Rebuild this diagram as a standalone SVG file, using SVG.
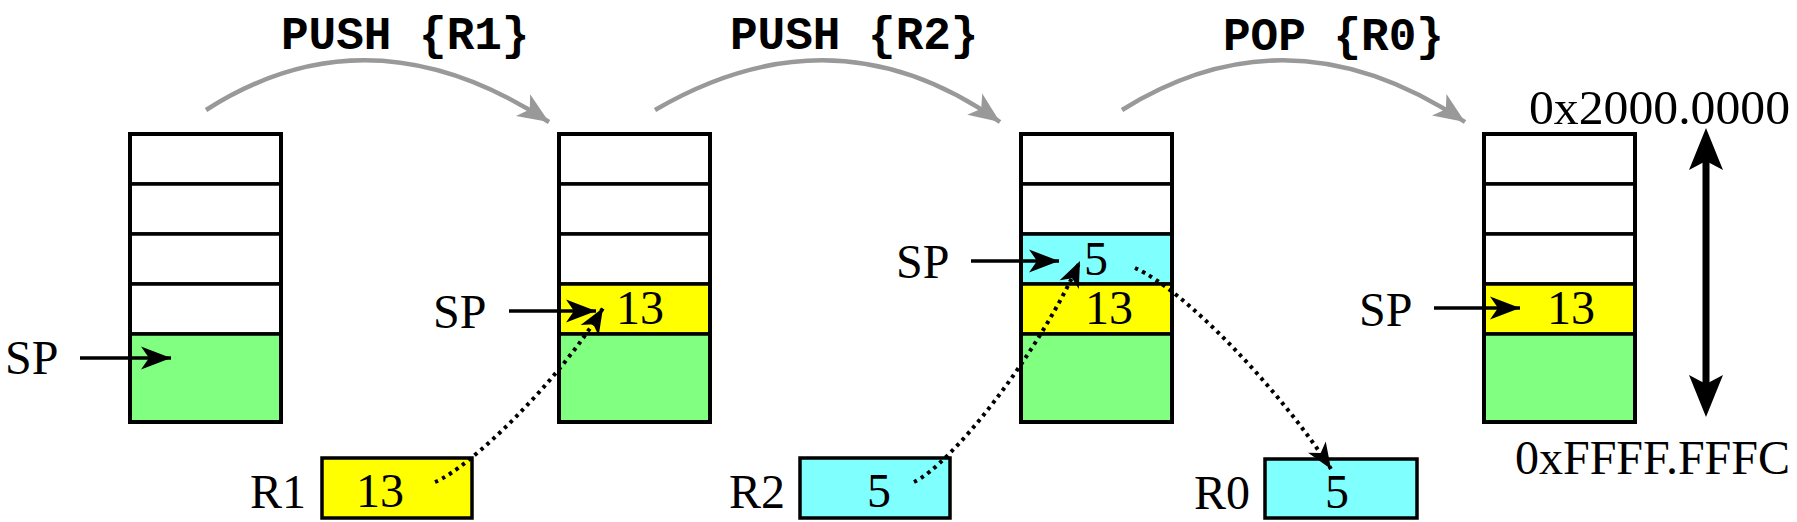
<svg xmlns="http://www.w3.org/2000/svg" width="1797" height="522" viewBox="0 0 1797 522">
<style>
.cell{stroke:#000;stroke-width:3.5}
.w{fill:#fff}.g{fill:#80ff80}.y{fill:#ffff00}.c{fill:#80ffff}
.frame{fill:none;stroke:#000;stroke-width:4}
.t{font-family:"Liberation Serif","Times New Roman",serif;font-size:48px;fill:#000}
.op{font-family:"Liberation Mono","Courier New",monospace;font-weight:bold;font-size:46px;fill:#000}
.sp{stroke:#000;stroke-width:3.5;fill:none}
.dot{stroke:#000;stroke-width:4;fill:none;stroke-dasharray:3.5 4.5}
.step{stroke:#999;stroke-width:4.5;fill:none}
.big{stroke:#000;stroke-width:7;fill:none}
</style>
<defs>
<marker id="ah" viewBox="-34 -14 36 28" markerWidth="36" markerHeight="28" refX="0" refY="0" orient="auto" markerUnits="userSpaceOnUse">
<path d="M0,0 L-30,-11.5 L-22,0 L-30,11.5 Z" fill="#000"/>
</marker>
<marker id="ahd" viewBox="-30 -13 32 26" markerWidth="32" markerHeight="26" refX="0" refY="0" orient="auto" markerUnits="userSpaceOnUse">
<path d="M0,0 L-26,-10.5 L-19,0 L-26,10.5 Z" fill="#000"/>
</marker>
<marker id="ahg" viewBox="-34 -15 36 30" markerWidth="36" markerHeight="30" refX="0" refY="0" orient="auto" markerUnits="userSpaceOnUse">
<path d="M0,0 L-31,-13 L-23,0 L-31,13 Z" fill="#999"/>
</marker>
<marker id="ahb" viewBox="-14 -19 48 38" markerWidth="48" markerHeight="38" refX="0" refY="0" orient="auto-start-reverse" markerUnits="userSpaceOnUse">
<path d="M30,0 L-12,-17 L-3,0 L-12,17 Z" fill="#000"/>
</marker>
</defs>

<g id="titles">
<text class="op" x="281" y="49">PUSH {R1}</text>
<text class="op" x="730" y="49">PUSH {R2}</text>
<text class="op" x="1223" y="50">POP {R0}</text>
</g>

<g id="stack1">
<rect class="cell w" x="130" y="134" width="151" height="50"/>
<rect class="cell w" x="130" y="184" width="151" height="50"/>
<rect class="cell w" x="130" y="234" width="151" height="50"/>
<rect class="cell w" x="130" y="284" width="151" height="50"/>
<rect class="cell g" x="130" y="334" width="151" height="88"/>
<rect class="frame" x="130" y="134" width="151" height="288"/>
<text class="t" x="5" y="374">SP</text>
</g>

<g id="stack2">
<rect class="cell w" x="559" y="134" width="151" height="50"/>
<rect class="cell w" x="559" y="184" width="151" height="50"/>
<rect class="cell w" x="559" y="234" width="151" height="50"/>
<rect class="cell y" x="559" y="284" width="151" height="50"/>
<rect class="cell g" x="559" y="334" width="151" height="88"/>
<rect class="frame" x="559" y="134" width="151" height="288"/>
<text class="t" x="640" y="324" text-anchor="middle">13</text>
<text class="t" x="433" y="328">SP</text>
</g>

<g id="stack3">
<rect class="cell w" x="1021" y="134" width="151" height="50"/>
<rect class="cell w" x="1021" y="184" width="151" height="50"/>
<rect class="cell c" x="1021" y="234" width="151" height="50"/>
<rect class="cell y" x="1021" y="284" width="151" height="50"/>
<rect class="cell g" x="1021" y="334" width="151" height="88"/>
<rect class="frame" x="1021" y="134" width="151" height="288"/>
<text class="t" x="1096" y="275" text-anchor="middle">5</text>
<text class="t" x="1109" y="324" text-anchor="middle">13</text>
<text class="t" x="896" y="278">SP</text>
</g>

<g id="stack4">
<rect class="cell w" x="1484" y="134" width="151" height="50"/>
<rect class="cell w" x="1484" y="184" width="151" height="50"/>
<rect class="cell w" x="1484" y="234" width="151" height="50"/>
<rect class="cell y" x="1484" y="284" width="151" height="50"/>
<rect class="cell g" x="1484" y="334" width="151" height="88"/>
<rect class="frame" x="1484" y="134" width="151" height="288"/>
<text class="t" x="1571" y="324" text-anchor="middle">13</text>
<text class="t" x="1359" y="326">SP</text>
</g>

<g id="regR1">
<rect class="cell y" x="322" y="458" width="150" height="60"/>
<text class="t" x="380" y="507" text-anchor="middle">13</text>
<text class="t" x="250" y="508">R1</text>
</g>

<g id="regR2">
<rect class="cell c" x="800" y="458" width="150" height="60"/>
<text class="t" x="879" y="507" text-anchor="middle">5</text>
<text class="t" x="729" y="508">R2</text>
</g>

<g id="regR0">
<rect class="cell c" x="1265" y="459" width="152" height="59"/>
<text class="t" x="1337" y="508" text-anchor="middle">5</text>
<text class="t" x="1194" y="509">R0</text>
</g>

<g id="addresses">
<text class="t" x="1529" y="124" textLength="261" lengthAdjust="spacingAndGlyphs">0x2000.0000</text>
<text class="t" x="1790" y="474" text-anchor="end">0xFFFF.FFFC</text>
</g>

<g id="connectors">
<path class="step" d="M206,110 Q370,5 549,122" marker-end="url(#ahg)"/>
<path class="step" d="M655,110 Q835,5 1000,122" marker-end="url(#ahg)"/>
<path class="step" d="M1122,110 Q1290,5 1465,122" marker-end="url(#ahg)"/>
<line class="sp" x1="80" y1="358" x2="171" y2="358" marker-end="url(#ah)"/>
<line class="sp" x1="509" y1="311" x2="596" y2="311" marker-end="url(#ah)"/>
<line class="sp" x1="971" y1="261" x2="1059" y2="261" marker-end="url(#ah)"/>
<line class="sp" x1="1434" y1="308" x2="1520" y2="308" marker-end="url(#ah)"/>
<path class="dot" d="M435,482 C470,468 560,380 603,308" marker-end="url(#ahd)"/>
<path class="dot" d="M914,482 C950,465 1035,360 1080,261" marker-end="url(#ahd)"/>
<path class="dot" d="M1135,268 C1185,290 1280,390 1331,469" marker-end="url(#ahd)"/>
<line class="big" x1="1706" y1="158" x2="1706" y2="387" marker-start="url(#ahb)" marker-end="url(#ahb)"/>
</g>
</svg>
